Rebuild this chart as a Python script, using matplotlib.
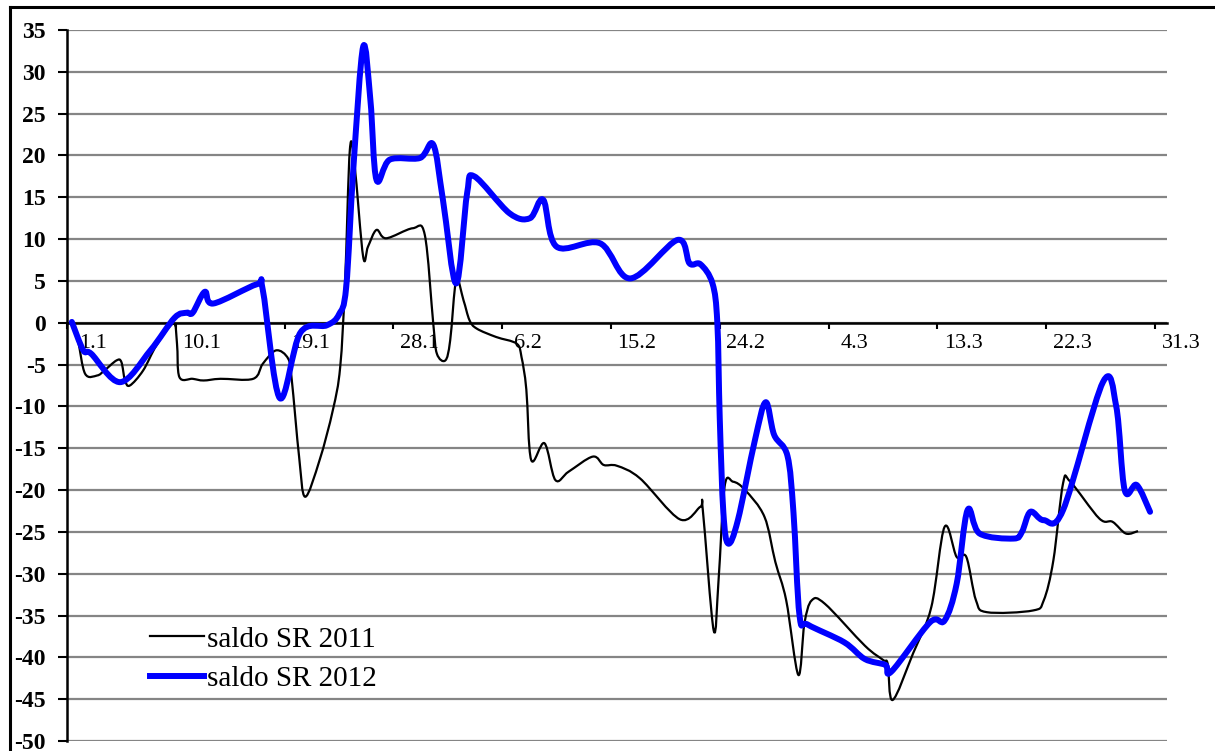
import numpy as np
import matplotlib
matplotlib.use("Agg")
import matplotlib.pyplot as plt
from matplotlib.lines import Line2D
from matplotlib.path import Path
from matplotlib.patches import PathPatch

plt.rcParams['font.family'] = ['Liberation Serif', 'DejaVu Serif']

# day index counted from 1.1 (0) to 31.3 (90)
tick_days = [0, 9, 18, 27, 36, 45, 54, 63, 72, 81, 90]
tick_labels = ["1.1", "10.1", "19.1", "28.1", "6.2", "15.2", "24.2", "4.3", "13.3", "22.3", "31.3"]
y_ticks = list(range(-50, 36, 5))

days_2011 = [0.4, 0.9, 1.5, 2.5, 3.1, 4.1, 4.5, 4.8, 5.2, 6.3, 7.4, 8.8, 9.1, 9.3, 10.4,
             11.3, 12.7, 15.4, 16.2, 17.3, 18.3, 18.6, 19.2, 19.7, 20.9, 22.0, 22.6, 23.0,
             23.4, 23.8, 24.5, 24.9, 25.6, 26.4, 28.6, 29.6, 30.3, 30.6, 31.3, 31.7, 32.2,
             32.8, 33.3, 33.9, 35.5, 37.2, 37.6, 38.0, 38.4, 39.5, 40.4, 41.5, 43.5, 44.4,
             45.5, 47.4, 50.7, 52.4, 52.6, 53.5, 53.9, 54.4, 55.1, 56.1, 57.7, 58.6, 59.5,
             60.5, 61.0, 61.6, 62.7, 66.0, 67.5, 67.9, 68.3, 70.0, 71.5, 72.6, 73.6, 74.4,
             75.2, 76.1, 79.9, 80.8, 81.6, 82.4, 83.0, 85.4, 86.5, 87.6, 88.6]
saldo_2011 = [0.0, -2.1, -6.1, -6.3, -5.7, -4.5, -4.7, -6.9, -7.5, -5.7, -2.7, -0.1, -2.5,
              -6.5, -6.7, -6.9, -6.7, -6.7, -4.9, -3.3, -4.3, -6.9, -16.0, -20.8, -16.4,
              -10.4, -5.3, 4.7, 20.7, 18.7, 7.9, 9.1, 11.1, 10.1, 11.3, 10.5, -0.1, -3.7,
              -4.5, -2.1, 5.1, 2.7, 0.3, -0.7, -1.7, -2.5, -4.1, -8.0, -16.4, -14.4, -18.8,
              -17.8, -16.0, -17.0, -17.1, -18.6, -23.5, -22.0, -22.4, -36.8, -30.8, -19.6,
              -19.0, -20.0, -23.2, -28.6, -33.2, -42.1, -36.0, -33.2, -33.6, -38.6, -40.3,
              -40.8, -45.1, -39.5, -34.0, -24.4, -28.0, -28.0, -33.2, -34.6, -34.4, -33.2,
              -28.4, -19.2, -19.0, -23.4, -23.8, -25.2, -24.9]

days_2012 = [0.4, 1.35, 2.0, 4.4, 6.9, 8.9, 9.9, 10.4, 11.4, 12.1, 15.7, 16.2, 17.6, 19.3,
             21.5, 22.5, 23.1, 23.7, 24.5, 25.1, 25.6, 26.7, 29.2, 30.3, 31.1, 32.2, 33.1,
             33.7, 36.6, 38.3, 39.4, 40.5, 44.1, 46.6, 50.5, 51.5, 52.4, 53.4, 53.8, 54.0,
             54.3, 54.7, 55.5, 56.9, 57.8, 58.5, 59.6, 60.1, 60.6, 61.3, 64.3, 66.0, 67.7,
             68.2, 71.4, 72.6, 73.6, 74.5, 75.5, 78.3, 79.0, 79.7, 80.8, 82.4, 85.7, 86.8,
             87.5, 88.5, 89.6]
saldo_2012 = [0.1, -3.3, -3.7, -7.1, -3.3, 0.6, 1.2, 1.2, 3.7, 2.3, 4.6, 3.9, -9.0, -1.2,
              -0.3, 1.0, 4.3, 18.7, 33.0, 26.6, 17.1, 19.5, 19.7, 21.3, 14.7, 4.7, 15.5,
              17.5, 13.1, 12.5, 14.7, 9.1, 9.5, 5.3, 9.9, 7.1, 7.0, 4.7, 0.0, -11.4, -22.7,
              -26.4, -23.6, -14.1, -9.5, -13.4, -15.9, -22.7, -35.0, -36.1, -38.2, -40.2,
              -40.9, -41.7, -35.8, -35.6, -31.2, -22.4, -25.2, -25.8, -25.0, -22.6, -23.6,
              -22.4, -7.1, -10.0, -20.0, -19.4, -22.6]


def smooth_path(xs, ys):
    # excel-like smoothed line: cubic bezier segments through the points
    p = np.column_stack([xs, ys]).astype(float)
    verts = [p[0]]
    codes = [Path.MOVETO]
    n = len(p)
    for i in range(n - 1):
        p0 = p[max(i - 1, 0)]
        p1 = p[i]
        p2 = p[i + 1]
        p3 = p[min(i + 2, n - 1)]
        c1 = p1 + (p2 - p0) / 6.0
        c2 = p2 - (p3 - p1) / 6.0
        verts += [c1, c2, p2]
        codes += [Path.CURVE4] * 3
    return Path(verts, codes)


fig = plt.figure(figsize=(12.15, 7.51), dpi=100)
ax = fig.add_axes([67 / 1215, 1 - 741 / 751, 1100 / 1215, 711 / 751])

ax.add_patch(PathPatch(smooth_path(days_2011, saldo_2011), fill=False, edgecolor='black',
                       lw=1.6, zorder=4, joinstyle='round'))
ax.add_patch(PathPatch(smooth_path(days_2012, saldo_2012), fill=False, edgecolor='#0000ff',
                       lw=4.3, zorder=5, joinstyle='round', capstyle='round'))

ax.set_xlim(0, 91)
ax.set_ylim(-50, 35)
ax.set_yticks(y_ticks)
ax.set_yticklabels([str(v) for v in y_ticks], fontsize=17, fontweight='bold')
ax.set_xticks(tick_days)
ax.set_xticklabels([])

ax.grid(axis='y', color='#858585', lw=1.6, zorder=0)
ax.set_axisbelow(True)

for s in ['top', 'right']:
    ax.spines[s].set_visible(False)
ax.spines['bottom'].set_position(('data', 0))
ax.spines['bottom'].set_linewidth(1.8)
ax.spines['left'].set_linewidth(1.8)
ax.tick_params(axis='y', direction='out', length=6.5, width=1.5, pad=9)
ax.tick_params(axis='x', direction='out', length=4.5, width=1.5)

for d, lab in zip(tick_days, tick_labels):
    ax.text(d + 2.15, -2.5, lab, ha='center', va='center', fontsize=16, zorder=1.5,
            clip_on=False)

handles = [Line2D([], [], color='black', lw=1.6), Line2D([], [], color='#0000ff', lw=4.3)]
ax.legend(handles, ['saldo SR 2011', 'saldo SR 2012'], loc='center left',
          bbox_to_anchor=(0.0755, 0.115), frameon=False, fontsize=21,
          handlelength=1.85, handletextpad=0.1, labelspacing=0.45, borderpad=0,
          borderaxespad=0)

# outer frame (top and left edges)
fig.add_artist(Line2D([10 / 1215, 1.0], [1 - 7 / 751, 1 - 7 / 751], color='black', lw=2.2,
                      transform=fig.transFigure))
fig.add_artist(Line2D([10 / 1215, 10 / 1215], [0.0, 1 - 7 / 751], color='black', lw=2.2,
                      transform=fig.transFigure))

fig.savefig('out.png', dpi=100)
